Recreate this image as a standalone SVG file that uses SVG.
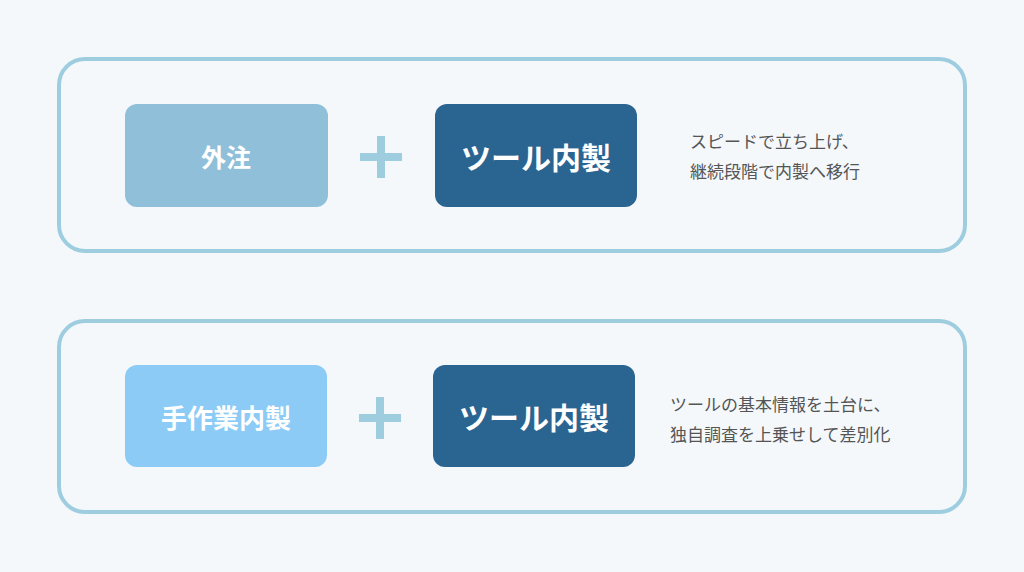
<svg xmlns="http://www.w3.org/2000/svg" width="1024" height="572" viewBox="0 0 1024 572">
<style>
.panel{fill:#f4f8fb;stroke:#9fcde0;stroke-width:4}
.bt{font-family:"Noto Sans CJK JP",sans-serif;font-weight:bold;fill:#fff;text-anchor:middle;dominant-baseline:central}
.note{font-family:"Noto Sans CJK JP",sans-serif;font-size:17px;fill:#555}
.plus{stroke:#9fcde0;stroke-width:8}
</style>
<rect width="1024" height="572" fill="#f4f8fb"/>
<g id="row1">
<rect class="panel" x="59" y="59" width="906" height="192" rx="26"/>
<g id="gaichu"><rect x="125" y="104" width="203" height="103" rx="12" fill="#8fbfd9"/><text class="bt" x="226" y="156" font-size="25">外注</text></g>
<g id="plus1"><path class="plus" d="M360 157H402M381 136V178"/></g>
<g id="tool1"><rect x="435" y="104" width="202" height="103" rx="12" fill="#2a6592"/><text class="bt" x="536" y="156" font-size="30">ツール内製</text></g>
<g id="note1"><text class="note" x="690" y="148">スピードで立ち上げ、</text><text class="note" x="690" y="178">継続段階で内製へ移行</text></g>
</g>
<g id="row2">
<rect class="panel" x="59" y="321" width="906" height="191" rx="26"/>
<g id="manual"><rect x="125" y="365" width="202" height="102" rx="12" fill="#8ccbf5"/><text class="bt" x="226" y="416" font-size="26">手作業内製</text></g>
<g id="plus2"><path class="plus" d="M359 418H401M380 397V439"/></g>
<g id="tool2"><rect x="433" y="365" width="202" height="102" rx="12" fill="#2a6592"/><text class="bt" x="534" y="416" font-size="30">ツール内製</text></g>
<g id="note2"><text class="note" x="670" y="411">ツールの基本情報を土台に、</text><text class="note" x="670" y="441">独自調査を上乗せして差別化</text></g>
</g>
</svg>
